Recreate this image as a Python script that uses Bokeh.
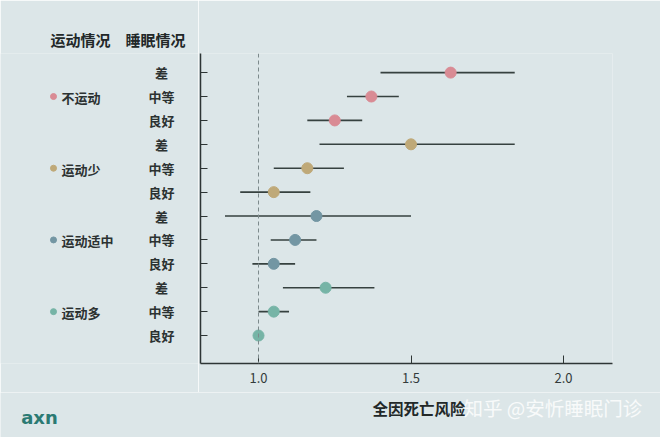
from bokeh.plotting import figure
from bokeh.layouts import row, column
from bokeh.models import ColumnDataSource, Span, Range1d, FixedTicker
from bokeh.core.properties import value
from bokeh.embed import file_html
from bokeh.resources import INLINE

# ---- data ----
groups = ["不运动", "运动少", "运动适中", "运动多"]
group_colors = ["#d98b94", "#bfa978", "#7396a3", "#76b4a6"]
sleep_levels = ["差", "中等", "良好"]
hr = [1.63, 1.37, 1.25, 1.50, 1.16, 1.05, 1.19, 1.12, 1.05, 1.22, 1.05, 1.00]
lo = [1.40, 1.29, 1.16, 1.20, 1.05, 0.94, 0.89, 1.04, 0.98, 1.08, 1.00, 1.00]
hi = [1.84, 1.46, 1.34, 1.84, 1.28, 1.17, 1.50, 1.19, 1.12, 1.38, 1.10, 1.00]
x_ticks = [1.0, 1.5, 2.0]
x_title = "全因死亡风险"
header = "运动情况　睡眠情况"
watermark = "知乎 @安忻睡眠门诊"
logo = "axn"

BG = "#dce6e8"
FONT = "Noto Sans CJK SC"
DARK = "#2c3232"
n = len(hr)
ys = [n - i for i in range(n)]
colors = [group_colors[i // 3] for i in range(n)]
sleep_lab = [sleep_levels[i % 3] for i in range(n)]

src = ColumnDataSource(dict(y=ys, hr=hr, lo=lo, hi=hi, color=colors, sleep=sleep_lab))

def style_blank(f):
    f.background_fill_color = BG
    f.border_fill_color = BG
    f.outline_line_color = None
    f.axis.visible = False
    f.grid.visible = False
    f.min_border = 0

# ---- main plot ----
yr = Range1d(-0.17, 12.8)
p = figure(width=462, height=392, output_backend="svg", toolbar_location=None,
           x_range=Range1d(0.8098, 2.1606), y_range=yr,
           min_border_left=2, min_border_right=48, min_border_top=53, min_border_bottom=29)
p.background_fill_color = BG
p.border_fill_color = BG
p.outline_line_color = None
p.xgrid.visible = False
p.ygrid.visible = False

p.add_layout(Span(location=1.0, dimension="height", line_color="#7d8a8c",
                  line_dash="4 3", line_width=1))
p.segment(x0="lo", x1="hi", y0="y", y1="y", source=src, line_color="#36413f", line_width=1.6)
p.scatter(x="hr", y="y", source=src, size=11, fill_color="color", line_color="color")

p.xaxis.ticker = FixedTicker(ticks=x_ticks)
p.xaxis.major_label_overrides = {1.0: "1.0", 1.5: "1.5", 2.0: "2.0"}
p.xaxis.axis_line_color = "#2e3535"
p.xaxis.axis_line_width = 1.5
p.xaxis.major_tick_line_color = "#2e3535"
p.xaxis.major_tick_in = 8
p.xaxis.major_tick_out = 0
p.xaxis.minor_tick_line_color = None
p.xaxis.major_label_text_font = FONT
p.xaxis.major_label_text_font_size = "13px"
p.xaxis.major_label_text_color = "#333b3b"
p.xaxis.major_label_standoff = 9

p.yaxis.ticker = FixedTicker(ticks=ys)
p.yaxis.major_label_overrides = {y: "" for y in ys}
p.yaxis.major_label_standoff = 0
p.yaxis.major_label_text_font_size = "1px"
p.yaxis.axis_line_color = "#2e3535"
p.yaxis.axis_line_width = 1.5
p.yaxis.major_tick_line_color = "#2e3535"
p.yaxis.major_tick_in = 7
p.yaxis.major_tick_out = 0
p.yaxis.minor_tick_line_color = None

# ---- left label panel (shares the main plot's y range; frames align in the row) ----
L = figure(width=198, height=392, output_backend="svg", toolbar_location=None,
           x_range=Range1d(0, 198), y_range=yr)
style_blank(L)
L.title.text = header
L.title.align = "left"
L.title.offset = 50
L.title.standoff = 7
L.title.text_font = FONT
L.title.text_font_size = "15px"
L.title.text_font_style = "bold"
L.title.text_color = "#222828"
L.text(x=161, y="y", text="sleep", source=src, text_align="center", text_baseline="middle",
       text_font=value(FONT), text_font_size="13px", text_font_style="bold", text_color=DARK)
gy = [ys[i * 3 + 1] for i in range(len(groups))]
gsrc = ColumnDataSource(dict(y=gy, t=groups, c=group_colors))
L.scatter(x=53, y="y", source=gsrc, size=6, fill_color="c", line_color="c")
L.text(x=61, y="y", text="t", source=gsrc, text_align="left", text_baseline="middle",
       text_font=value(FONT), text_font_size="13px", text_font_style="bold", text_color=DARK,
       y_offset=1)

# ---- bottom strip: axis title, watermark, logo ----
B = figure(width=660, height=45, output_backend="svg", toolbar_location=None,
           x_range=Range1d(0, 660), y_range=Range1d(437, 392))
style_blank(B)
B.text(x=[372], y=[407], text=[x_title], text_align="left", text_baseline="middle",
       text_font=value(FONT), text_font_size="15.5px", text_font_style="bold",
       text_color="#222828")
B.text(x=[463], y=[407], text=[watermark], text_align="left", text_baseline="middle",
       text_font=value(FONT), text_font_size="19.5px", text_color="#f8fafa")
B.text(x=[39], y=[417], text=[logo], text_align="center", text_baseline="middle",
       text_font=value("DejaVu Sans"), text_font_size="18px", text_font_style="bold",
       text_color="#2b7a73")

layout = column(row(L, p), B)
open("out.html", "w").write(file_html(layout, INLINE))
